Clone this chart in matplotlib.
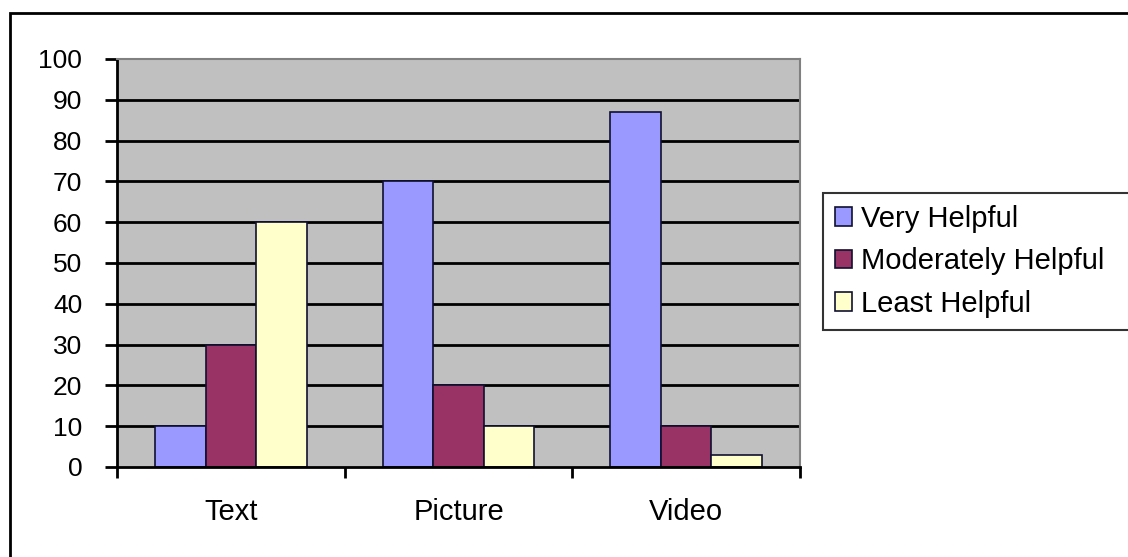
import numpy as np
from matplotlib import pyplot as plt
from matplotlib.patches import Rectangle

# data
categories = ['Text', 'Picture', 'Video']
series_names = ['Very Helpful', 'Moderately Helpful', 'Least Helpful']
very_helpful = [10, 70, 87]
moderately_helpful = [30, 20, 10]
least_helpful = [60, 10, 3]
y_ticks = list(range(0, 101, 10))

colors = ['#9999FF', '#993366', '#FFFFCC']
W, H = 1128, 557

plt.rcParams['font.family'] = ['Liberation Sans', 'DejaVu Sans']
fig = plt.figure(figsize=(W / 100, H / 100), dpi=100)

# outer chart frame (Excel style), cut off at right/bottom
fig.patches.append(Rectangle((10 / W, -0.2), 1.5, 1 - 13 / H + 0.2,
                             transform=fig.transFigure, fill=False,
                             edgecolor='black', linewidth=2))

ax = fig.add_axes([117 / W, 1 - 467 / H, (800 - 117) / W, (467 - 59) / H])
ax.set_facecolor('#C0C0C0')

x = np.arange(len(categories))
bar_w = 1 / 4.5
for i, (vals, name) in enumerate(zip([very_helpful, moderately_helpful, least_helpful], series_names)):
    ax.bar(x + (i - 1) * bar_w, vals, width=bar_w, color=colors[i],
           edgecolor='#101030', linewidth=1.2, label=name, zorder=3)

ax.set_xlim(-0.5, len(categories) - 0.5)
ax.set_ylim(0, 100)

# gridlines
ax.set_yticks(y_ticks)
for t in y_ticks[1:-1]:
    ax.axhline(t, color='black', linewidth=2, zorder=1)

ax.spines['left'].set_color('black')
ax.spines['left'].set_linewidth(2)
ax.spines['bottom'].set_color('black')
ax.spines['bottom'].set_linewidth(2)
ax.spines['bottom'].set_zorder(4)
for s in ['top', 'right']:
    ax.spines[s].set_color('#808080')
    ax.spines[s].set_linewidth(1.5)

ax.tick_params(axis='y', length=9, width=2, pad=16, labelsize=19)
ax.set_xticks(x)
ax.set_xticklabels(categories)
ax.set_xticks(np.arange(len(categories) + 1) - 0.5, minor=True)
ax.tick_params(axis='x', which='major', length=0, pad=22, labelsize=21)
ax.tick_params(axis='x', which='minor', length=8, width=2, direction='out')

leg = ax.legend(loc='upper left', bbox_to_anchor=(823 / W, 1 - 335 / H, 0.5, (335 - 193) / H),
                bbox_transform=fig.transFigure, mode='expand', fontsize=21,
                frameon=True, fancybox=False, handlelength=0.6, handleheight=0.6,
                handletextpad=0.3, labelspacing=0.5, borderpad=0.4, borderaxespad=0)
leg.get_frame().set_edgecolor('black')
leg.get_frame().set_linewidth(1.5)

fig.savefig('out.png', dpi=100)
